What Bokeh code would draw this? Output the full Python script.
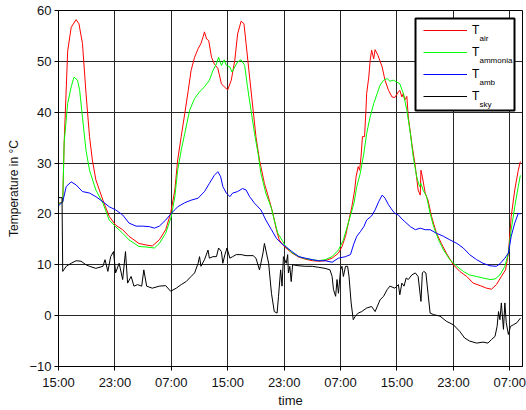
from bokeh.plotting import figure
from bokeh.models import Range1d, FixedTicker, Legend, LegendItem, Label, BoxAnnotation
from bokeh.embed import file_html
from bokeh.resources import INLINE

# ---- data: hours since 15:00 on day 1, temperatures in degC ----
hours_air = [0.0, 0.6, 0.8, 1.3, 1.8, 2.5, 2.9, 3.4, 3.9, 4.4, 4.8, 5.3, 6.3, 7.2, 8.1, 9.1, 10.0, 11.4, 12.4, 13.3,
             14.3, 15.2, 15.9, 16.5, 16.9, 17.4, 17.9, 18.4, 18.8, 19.3, 19.8, 20.2, 20.5, 20.7, 21.0, 21.3, 21.7,
             22.1, 22.6, 23.1, 23.5, 24.0, 24.5, 25.0, 25.4, 25.9, 26.3, 26.6, 27.1, 27.6, 28.0, 28.5, 29.2, 29.9,
             30.4, 30.9, 31.3, 32.0, 33.1, 34.1, 35.0, 36.0, 36.9, 37.8, 38.8, 39.7, 40.2, 40.7, 41.1, 41.6, 42.0,
             42.2, 42.5, 42.7, 42.9, 43.1, 43.4, 43.6, 43.7, 44.0, 44.2, 44.4, 44.7, 44.9, 45.3, 45.9, 46.3, 46.8,
             47.3, 47.7, 48.2, 48.4, 48.7, 48.9, 49.1, 49.4, 49.6, 50.1, 50.6, 51.0, 51.3, 51.4, 51.6, 52.0, 52.4,
             52.9, 53.6, 54.3, 55.0, 56.0, 56.9, 57.9, 58.8, 59.8, 60.7, 61.4, 62.1, 62.8, 63.4, 63.8, 64.2, 64.7,
             65.2, 65.5]
t_air = [22.1, 22.3, 33.9, 52.0, 56.7, 58.2, 57.4, 53.5, 43.7, 35.2, 30.6, 26.7, 22.7, 19.5, 17.8, 16.9, 15.6, 14.2,
         13.9, 13.7, 14.9, 16.9, 20.1, 24.7, 30.6, 35.2, 39.7, 44.3, 48.2, 50.8, 52.5, 53.5, 54.8, 55.8, 54.4, 54.1,
         50.8, 49.5, 48.6, 45.6, 45.0, 44.4, 46.3, 50.2, 55.4, 57.9, 57.4, 53.5, 46.9, 40.4, 35.2, 30.6, 26.0, 22.7,
         20.1, 16.9, 14.9, 13.6, 12.3, 11.5, 11.1, 10.8, 10.7, 10.8, 11.3, 12.3, 13.6, 15.6, 18.2, 21.4, 24.7, 27.3,
         29.3, 28.6, 31.2, 35.2, 35.2, 40.4, 43.7, 46.9, 50.2, 52.2, 50.5, 52.3, 51.2, 48.9, 46.3, 44.3, 43.0, 42.9,
         44.0, 44.3, 43.0, 43.7, 42.4, 43.1, 39.1, 33.9, 29.3, 24.7, 23.7, 28.6, 27.3, 24.1, 22.7, 19.5, 16.2, 14.2,
         12.3, 10.0, 8.7, 7.7, 6.4, 5.9, 5.4, 5.2, 6.1, 7.7, 9.0, 12.3, 19.5, 24.7, 28.6, 30.3]

hours_ammonia = [0.0, 0.6, 0.8, 1.3, 1.8, 2.2, 2.7, 3.0, 3.4, 3.9, 4.4, 5.3, 6.3, 7.2, 8.1, 9.1, 10.0, 11.4, 12.4,
                 13.6, 14.3, 15.2, 16.0, 16.5, 16.9, 17.4, 17.9, 18.6, 19.3, 20.0, 20.7, 21.4, 21.9, 22.4, 22.7,
                 23.1, 23.5, 23.8, 24.3, 24.6, 25.0, 25.4, 25.9, 26.4, 26.8, 27.3, 27.8, 28.3, 28.7, 29.4, 30.2,
                 30.6, 31.1, 31.8, 32.2, 33.1, 34.1, 35.0, 36.0, 36.9, 37.8, 38.8, 39.7, 40.4, 41.1, 41.9, 42.3,
                 42.8, 43.3, 43.7, 44.2, 44.7, 45.2, 45.6, 46.1, 46.6, 47.0, 47.5, 48.0, 48.4, 48.9, 49.4, 49.9,
                 50.3, 50.8, 51.2, 51.4, 51.7, 52.2, 52.7, 53.2, 53.9, 54.6, 55.5, 56.5, 57.4, 58.3, 59.3, 60.2,
                 61.2, 61.9, 62.6, 63.3, 63.8, 64.2, 64.7, 65.2, 65.5]
t_ammonia = [22.0, 22.3, 34.0, 41.7, 45.0, 46.9, 46.3, 44.3, 39.0, 32.5, 28.6, 24.7, 22.1, 18.8, 17.5, 16.2, 14.9,
             13.6, 13.5, 13.3, 14.2, 16.2, 19.5, 23.4, 28.6, 32.5, 35.8, 40.4, 42.7, 44.0, 45.0, 46.3, 48.2, 49.5,
             50.8, 49.2, 50.3, 49.2, 48.9, 47.9, 48.9, 49.9, 50.3, 49.2, 45.0, 40.4, 35.8, 31.9, 28.0, 24.1, 21.1,
             18.8, 16.2, 14.6, 13.6, 12.4, 11.6, 11.2, 11.0, 10.8, 11.0, 11.6, 12.9, 14.9, 18.2, 22.1, 25.4, 28.0,
             31.9, 35.8, 39.1, 41.7, 43.7, 45.3, 46.3, 46.6, 46.1, 46.3, 45.9, 45.6, 43.7, 40.4, 35.8, 31.2, 27.3,
             25.4, 26.0, 24.7, 23.4, 20.1, 17.5, 14.9, 12.9, 11.0, 9.7, 8.7, 8.0, 7.7, 7.4, 7.1, 7.2, 8.0, 9.7,
             12.3, 16.9, 21.4, 25.4, 27.6]

hours_amb = [0.0, 0.6, 1.1, 1.8, 2.5, 3.4, 4.4, 5.3, 6.3, 7.2, 8.1, 9.1, 10.0, 11.0, 11.9, 12.9, 13.6, 14.3, 15.2,
             16.0, 16.9, 17.9, 18.8, 19.8, 20.7, 21.4, 22.1, 22.6, 23.0, 23.3, 23.8, 24.3, 24.7, 25.4, 26.1, 26.6,
             27.1, 27.8, 28.7, 29.4, 30.2, 30.9, 31.6, 32.3, 33.1, 34.1, 35.0, 36.0, 36.9, 37.8, 38.8, 39.7, 40.7,
             41.4, 41.9, 42.3, 42.8, 43.3, 43.7, 44.4, 44.9, 45.4, 45.9, 46.3, 46.8, 47.3, 47.7, 48.2, 48.7, 49.1,
             49.9, 50.6, 51.3, 52.0, 52.7, 53.6, 54.6, 55.5, 56.5, 57.4, 58.3, 59.3, 60.2, 61.2, 62.1, 62.6, 63.3,
             63.8, 64.2, 64.7, 65.2, 65.5]
t_amb = [21.6, 22.4, 25.4, 26.3, 25.7, 24.4, 24.1, 23.4, 22.4, 21.4, 20.8, 19.8, 18.2, 17.6, 17.6, 17.5, 17.2, 17.6,
         18.8, 20.1, 21.4, 22.2, 22.7, 23.1, 24.4, 26.0, 27.6, 28.3, 27.3, 25.4, 24.1, 23.4, 24.1, 24.4, 25.0, 24.7,
         23.4, 22.1, 20.8, 18.8, 16.9, 15.2, 14.2, 13.5, 12.6, 11.6, 11.3, 11.0, 10.8, 10.8, 10.5, 11.3, 11.6, 12.0,
         14.2, 15.6, 16.5, 17.5, 18.8, 19.6, 20.8, 22.4, 23.7, 23.1, 21.8, 20.8, 20.1, 19.8, 19.0, 18.5, 17.5, 16.9,
         17.2, 16.9, 16.9, 16.2, 15.6, 14.9, 14.2, 13.3, 12.0, 11.0, 10.3, 9.8, 9.7, 10.2, 11.3, 12.3, 15.6, 18.2,
         20.1, 20.0]

hours_sky = [0.0, 0.5, 0.6, 1.1, 1.8, 2.5, 3.2, 3.9, 4.4, 5.3, 6.3, 6.6, 7.0, 7.4, 7.8, 8.1, 8.6, 9.1, 9.5, 9.8,
             10.3, 10.7, 11.2, 11.8, 12.1, 12.5, 13.3, 14.3, 15.2, 15.9, 16.7, 17.4, 18.1, 18.8, 19.3, 19.8, 20.0,
             20.2, 20.7, 21.2, 21.4, 21.9, 22.4, 22.7, 23.1, 23.3, 23.6, 23.9, 24.3, 24.7, 25.2, 25.9, 26.6, 27.6,
             28.0, 28.5, 29.0, 29.2, 29.4, 29.8, 30.2, 30.6, 31.0, 31.2, 31.5, 31.7, 31.9, 32.3, 32.5, 32.6, 32.8,
             33.0, 33.2, 34.1, 35.0, 36.0, 36.9, 37.8, 38.5, 38.8, 39.0, 39.3, 39.5, 39.7, 40.0, 40.2, 40.4, 40.7,
             41.0, 41.2, 41.5, 41.8, 42.1, 42.5, 43.0, 43.7, 44.4, 44.9, 45.6, 46.1, 46.6, 47.0, 47.7, 48.2, 48.4,
             48.7, 49.0, 49.3, 49.6, 50.1, 50.6, 51.0, 51.4, 51.6, 51.8, 52.1, 52.4, 52.7, 53.2, 54.1, 55.0, 56.0,
             56.9, 57.6, 58.3, 59.3, 60.2, 60.9, 61.4, 61.9, 62.2, 62.4, 62.6, 62.8, 63.1, 63.3, 63.5, 63.8, 64.1,
             64.5, 65.0, 65.5]
t_sky = [23.2, 23.2, 8.7, 9.7, 10.3, 10.8, 10.7, 10.0, 9.7, 9.3, 9.7, 11.0, 8.7, 11.6, 12.6, 8.4, 10.3, 7.1, 12.6,
         6.4, 7.7, 5.8, 6.1, 5.8, 9.0, 5.8, 5.4, 5.8, 5.9, 4.8, 5.4, 6.1, 6.7, 7.7, 8.4, 10.3, 11.6, 9.7, 11.0, 12.9,
         11.3, 11.6, 11.6, 13.3, 12.6, 10.3, 12.0, 13.3, 11.3, 11.6, 12.0, 12.0, 11.8, 11.8, 11.3, 9.0, 12.3, 14.2,
         12.9, 10.3, 4.4, 0.8, 0.5, 3.8, 9.0, 5.8, 11.6, 10.3, 12.0, 8.4, 9.7, 6.7, 10.0, 9.8, 9.7, 9.7, 9.5, 9.3,
         9.0, 7.7, 5.1, 3.8, 7.1, 4.4, 9.0, 9.7, 7.7, 9.7, 9.7, 7.7, 2.5, -0.8, -0.1, 0.5, 0.8, 1.5, 1.8, 0.8, 3.1,
         3.8, 5.1, 5.8, 5.4, 6.1, 4.1, 6.4, 5.8, 7.4, 7.1, 8.0, 8.4, 7.7, 2.8, 8.4, 8.7, 8.4, 4.4, 0.5, 0.2, -0.1,
         -1.1, -1.8, -3.1, -4.4, -5.0, -5.4, -5.2, -5.4, -4.7, -4.1, -2.1, 0.8, -0.8, 2.5, -2.7, 2.5, -1.4, -3.7,
         -2.1, -1.8, -1.4, -0.5]

tick_hours = [0, 8, 16, 24, 32, 40, 48, 56, 64]
tick_labels = ["15:00", "23:00", "07:00", "15:00", "23:00", "07:00", "15:00", "23:00", "07:00"]
y_ticks = [-10, 0, 10, 20, 30, 40, 50, 60]
series_names = ["T", "T", "T", "T"]
series_subs = ["air", "ammonia", "amb", "sky"]
series_colors = ["#ff0000", "#00ff00", "#0000ff", "#000000"]

FONT = "Liberation Sans"

# layout (pixels)
W, H = 526, 410
BL, BR, BT, BB = 58, 4, 10, 42

p = figure(width=W, height=H, output_backend="svg", toolbar_location=None,
           x_range=Range1d(0, 65.8), y_range=Range1d(-10, 60),
           min_border_left=BL, min_border_right=BR, min_border_top=BT, min_border_bottom=BB,
           background_fill_color="white", border_fill_color="white")

p.outline_line_color = "black"
p.outline_line_width = 1

for ax in (p.xaxis[0], p.yaxis[0]):
    ax.axis_line_color = "black"
    ax.major_tick_line_color = "black"
    ax.major_tick_out = 4
    ax.major_tick_in = 0
    ax.minor_tick_line_color = None
    ax.major_label_text_font = FONT
    ax.major_label_text_font_size = "13px"
    ax.major_label_text_color = "#111111"
    ax.axis_label_text_font = FONT
    ax.axis_label_text_font_style = "normal"
    ax.axis_label_text_color = "#111111"

p.xaxis.ticker = FixedTicker(ticks=tick_hours)
p.xaxis.major_label_overrides = {h: lab for h, lab in zip(tick_hours, tick_labels)}
p.xaxis.major_label_standoff = 4
p.xaxis.axis_label = "time"
p.xaxis.axis_label_text_font_size = "13px"
p.xaxis.axis_label_standoff = 0

p.yaxis.ticker = FixedTicker(ticks=y_ticks)
p.yaxis.major_label_standoff = 3
p.yaxis.axis_label = "Temperature in °C"
p.yaxis.axis_label_text_font_size = "12px"
p.yaxis.axis_label_standoff = 5

for g in (p.xgrid[0], p.ygrid[0]):
    g.grid_line_color = "#262626"
    g.grid_line_width = 1

xs = [hours_air, hours_ammonia, hours_amb, hours_sky]
ys = [t_air, t_ammonia, t_amb, t_sky]
renderers = []
for x, y, c in zip(xs, ys, series_colors):
    renderers.append(p.line(x, y, line_color=c, line_width=1))

# legend frame, placed from the frame's top-right corner (screen px, y measured up from frame bottom)
FW = W - BL - BR
FH = H - BT - 45   # the bottom axis needs ~45 px
box_right = FW - 8
box_left = box_right - 99
box_top = FH - 7
box_bottom = box_top - 92
box = BoxAnnotation(left=box_left, right=box_right, top=box_top, bottom=box_bottom,
                    left_units="screen", right_units="screen", top_units="screen", bottom_units="screen",
                    fill_color="white", fill_alpha=1, line_color="black", line_width=2, line_alpha=1)
p.add_layout(box)

leg_x = box_left + 8
leg_bottom = box_bottom + 3
legend = Legend(items=[LegendItem(label=n, renderers=[r]) for n, r in zip(series_names, renderers)],
                location=(leg_x, leg_bottom), padding=0, spacing=0, margin=0,
                glyph_width=44, glyph_height=22, label_height=22, label_standoff=5,
                border_line_alpha=0, background_fill_alpha=0,
                label_text_font=FONT, label_text_font_size="12px", label_text_color="black")
p.add_layout(legend)

for i, s in enumerate(series_subs):
    row_center = leg_bottom + 88 - 11 - 22 * i
    p.add_layout(Label(x=leg_x + 56, y=row_center - 8, x_units="screen", y_units="screen", text=s,
                       text_font=FONT, text_font_size="8px", text_baseline="alphabetic",
                       text_color="black"))

open("out.html", "w").write(file_html(p, INLINE))
